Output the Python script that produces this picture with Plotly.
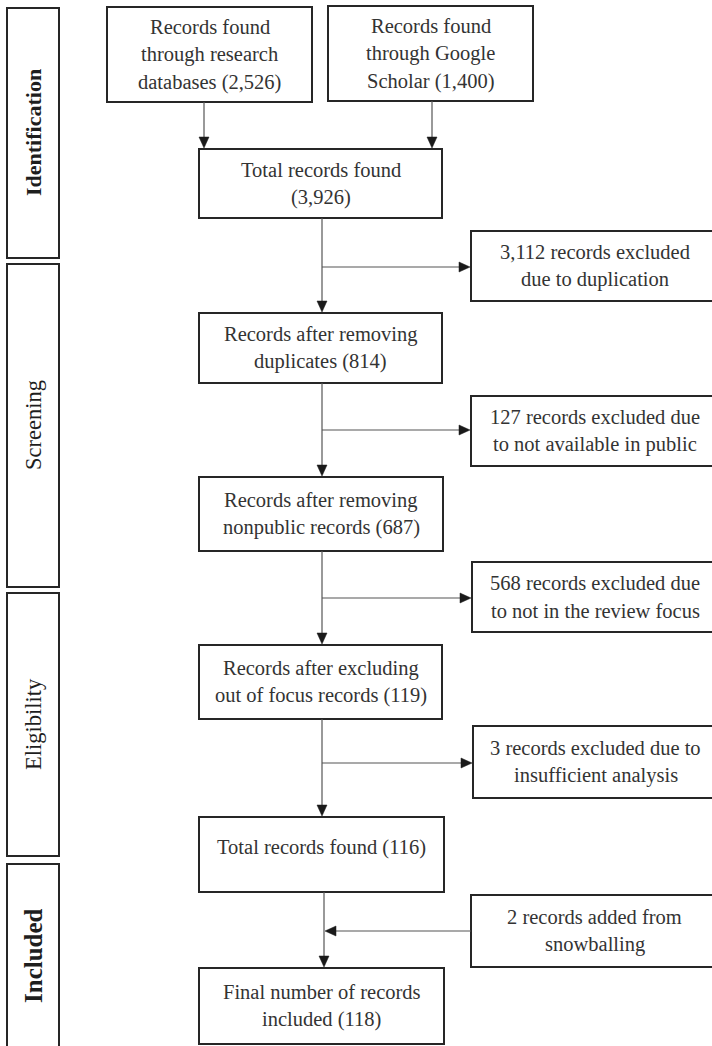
import plotly.graph_objects as go

# ---------------- data ----------------
phases = ["Identification", "Screening", "Eligibility", "Included"]
source_counts = [2526, 1400]
stage_counts = [3926, 814, 687, 119, 116, 118]
side_counts = [3112, 127, 568, 3, 2]

source_labels = [
    ["Records found", "through research", "databases ({:,})"],
    ["Records found", "through Google", "Scholar ({:,})"],
]
stage_labels = [
    ["Total records found", "({:,})"],
    ["Records after removing", "duplicates ({:,})"],
    ["Records after removing", "nonpublic records ({:,})"],
    ["Records after excluding", "out of focus records ({:,})"],
    ["Total records found ({:,})"],
    ["Final number of records", "included ({:,})"],
]
side_labels = [
    ["{:,} records excluded", "due to duplication"],
    ["{:,} records excluded due", "to not available in public"],
    ["{:,} records excluded due", "to not in the review focus"],
    ["{:,} records excluded due to", "insufficient analysis"],
    ["{:,} records added from", "snowballing"],
]
side_direction = ["out", "out", "out", "out", "in"]

# ---------------- layout geometry (pixels) ----------------
W, H = 712, 1046
src_boxes = [(107, 312, 7, 102), (328, 533, 6, 101)]
stage_boxes = [(199, 442, 149, 218), (199, 442, 313, 383), (199, 443, 477, 551),
               (199, 442, 645, 719), (199, 444, 817, 892), (199, 444, 968, 1044)]
stage_text_dy = [0, 0, 0, 0, -7, 0]
side_boxes = [(471, 718, 231, 301), (471, 718, 396, 466), (472, 718, 562, 632),
              (473, 718, 726, 798), (471, 718, 895, 967)]
phase_boxes = [(7, 59, 8, 258), (7, 59, 264, 587), (7, 59, 593, 856), (7, 59, 864, 1056)]
phase_fonts = [(22, True), (22.5, False), (22.5, False), (25, True)]
phase_text_y = [133, 425, 724, 956]
spine_x = [322, 322, 322, 322, 324]
branch_y = [267, 430, 598, 763, 931]
src_arrow_x = [204, 432]

LINE_SPACING = 27.5
FONT = "Liberation Serif"
TXT = "#333333"
BOX = "#262626"
LINE = "#555555"
HEAD_L, HEAD_W = 11, 5

shapes = []
annotations = []


def rect(b, width=2):
    x0, x1, y0, y1 = b
    shapes.append(dict(type="rect", xref="x", yref="y", x0=x0, x1=x1, y0=y0, y1=y1,
                       line=dict(color=BOX, width=width), fillcolor="rgba(0,0,0,0)",
                       layer="above"))


def line(x0, y0, x1, y1):
    shapes.append(dict(type="line", xref="x", yref="y", x0=x0, y0=y0, x1=x1, y1=y1,
                       line=dict(color=LINE, width=1.2)))


def head(x, y, direction):
    if direction == "down":
        p = f"M {x-HEAD_W},{y-HEAD_L} L {x+HEAD_W},{y-HEAD_L} L {x},{y} Z"
    elif direction == "right":
        p = f"M {x-HEAD_L},{y-HEAD_W} L {x-HEAD_L},{y+HEAD_W} L {x},{y} Z"
    else:
        p = f"M {x+HEAD_L},{y-HEAD_W} L {x+HEAD_L},{y+HEAD_W} L {x},{y} Z"
    shapes.append(dict(type="path", xref="x", yref="y", path=p,
                       fillcolor="#1a1a1a", line=dict(color="#1a1a1a", width=0.5)))


def text_lines(lines, count, cx, cy, size=20.5):
    n = len(lines)
    for i, t in enumerate(lines):
        y = cy + (i - (n - 1) / 2) * LINE_SPACING
        annotations.append(dict(x=cx, y=y, xref="x", yref="y", showarrow=False,
                                text=t.format(count), xanchor="center", yanchor="middle",
                                font=dict(family=FONT, size=size, color=TXT)))


# phase boxes
for b, name, (fs, bold), ty in zip(phase_boxes, phases, phase_fonts, phase_text_y):
    rect(b, width=2)
    x0, x1, y0, y1 = b
    annotations.append(dict(x=(x0 + x1) / 2, y=ty, xref="x", yref="y", showarrow=False,
                            text=f"<b>{name}</b>" if bold else name, textangle=-90,
                            xanchor="center", yanchor="middle",
                            font=dict(family=FONT, size=fs, color="#1e1e1e")))

# source boxes and arrows
for b, lab, c, ax in zip(src_boxes, source_labels, source_counts, src_arrow_x):
    rect(b)
    x0, x1, y0, y1 = b
    text_lines(lab, c, (x0 + x1) / 2, (y0 + y1) / 2)
    top = stage_boxes[0][2]
    line(ax, y1, ax, top - HEAD_L)
    head(ax, top - 1, "down")

# stage boxes
for b, lab, c, dy in zip(stage_boxes, stage_labels, stage_counts, stage_text_dy):
    rect(b)
    x0, x1, y0, y1 = b
    text_lines(lab, c, (x0 + x1) / 2, (y0 + y1) / 2 + dy)

# spine links and side boxes
for i, (b, lab, c, d) in enumerate(zip(side_boxes, side_labels, side_counts, side_direction)):
    rect(b)
    x0, x1, y0, y1 = b
    text_lines(lab, c, (x0 + x1) / 2, (y0 + y1) / 2)
    sx = spine_x[i]
    top = stage_boxes[i][3]
    bot = stage_boxes[i + 1][2]
    line(sx, top, sx, bot - HEAD_L)
    head(sx, bot - 1, "down")
    by = branch_y[i]
    if d == "out":
        line(sx, by, x0 - HEAD_L, by)
        head(x0 - 1, by, "right")
    else:
        line(sx + HEAD_L, by, x0, by)
        head(sx + 1, by, "left")

fig = go.Figure()
fig.update_layout(
    width=W, height=H,
    margin=dict(l=0, r=0, t=0, b=0),
    paper_bgcolor="white", plot_bgcolor="white",
    xaxis=dict(range=[0, W], visible=False, fixedrange=True),
    yaxis=dict(range=[H, 0], visible=False, fixedrange=True),
    shapes=shapes, annotations=annotations, showlegend=False,
)
fig.write_html(
    "out.html",
    config={"displayModeBar": False},
    post_script="document.body.style.margin='0';document.body.style.overflow='hidden';",
)
